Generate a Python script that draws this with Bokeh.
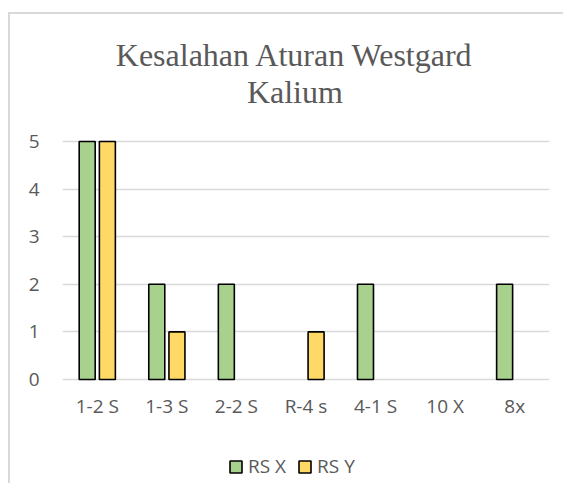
from bokeh.plotting import figure
from bokeh.models import (FactorRange, Range1d, FixedTicker, Legend, LegendItem,
                          Label, ColumnDataSource)
from bokeh.transform import dodge
from bokeh.embed import file_html
from bokeh.resources import INLINE

categories = ["1-2 S", "1-3 S", "2-2 S", "R-4 s", "4-1 S", "10 X", "8x"]
rs_x = [5, 2, 2, 0, 2, 0, 2]
rs_y = [5, 1, 0, 1, 0, 0, 0]
title_lines = ["Kesalahan Aturan Westgard", "Kalium"]
series_names = ["RS X", "RS Y"]
y_ticks = [0, 1, 2, 3, 4, 5]

GREEN = "#a9d18e"
YELLOW = "#ffd966"
TXT = "#595959"
GRID = "#d9d9d9"
FONT = "Open Sans"


def nonzero(cats, vals):
    # zero-height bars are not drawn (as in the original chart)
    pairs = [(c, v) for c, v in zip(cats, vals) if v != 0]
    return ColumnDataSource(dict(cat=[c for c, _ in pairs], v=[v for _, v in pairs]))


src_x = nonzero(categories, rs_x)
src_y = nonzero(categories, rs_y)

p = figure(width=555, height=471, output_backend="svg", toolbar_location=None,
           x_range=FactorRange(*categories), y_range=Range1d(-2.227, 7.647),
           min_border_left=52, min_border_right=16, min_border_top=1,
           min_border_bottom=0)
p.styles = {"margin-left": "8px", "margin-top": "12px",
            "border-left": "2px solid #d9d9d9", "border-top": "2px solid #d9d9d9"}
p.outline_line_color = None
p.background_fill_color = "white"
p.border_fill_color = "white"

r1 = p.vbar(x=dodge("cat", -0.145, range=p.x_range), top="v", source=src_x,
            width=0.23, fill_color=GREEN, line_color="black", line_width=1.6)
r2 = p.vbar(x=dodge("cat", 0.145, range=p.x_range), top="v", source=src_y,
            width=0.23, fill_color=YELLOW, line_color="black", line_width=1.6)

# axes
p.xgrid.grid_line_color = None
p.ygrid.grid_line_color = GRID
p.ygrid.grid_line_width = 1.5
p.yaxis.ticker = FixedTicker(ticks=y_ticks)
for ax in (p.xaxis[0], p.yaxis[0]):
    ax.axis_line_color = None
    ax.major_tick_line_color = None
    ax.minor_tick_line_color = None
    ax.major_tick_out = 0
    ax.major_tick_in = 0
    ax.major_label_text_font = FONT
    ax.major_label_text_font_size = "19px"
    ax.major_label_text_color = TXT
p.yaxis.major_label_standoff = 23
# category labels sit just under the zero line, above the legend row
p.xaxis.major_label_standoff = -93

# title as two centred lines
for txt, yy in zip(title_lines, [6.81, 6.05]):
    p.add_layout(Label(x=3.34, y=yy, text=txt, text_align="center",
                       text_baseline="alphabetic", text_font="Liberation Serif",
                       text_font_size="32px", text_color=TXT))

legend = Legend(items=[LegendItem(label=series_names[0], renderers=[r1]),
                       LegendItem(label=series_names[1], renderers=[r2])],
                orientation="horizontal", location=(166, 6),
                glyph_width=15, glyph_height=15, label_standoff=5, spacing=11,
                padding=5, margin=0, border_line_color=None,
                label_text_font=FONT, label_text_font_size="19px",
                label_text_color=TXT, background_fill_alpha=0)
p.add_layout(legend, "center")

open("out.html", "w").write(file_html(p, INLINE))
